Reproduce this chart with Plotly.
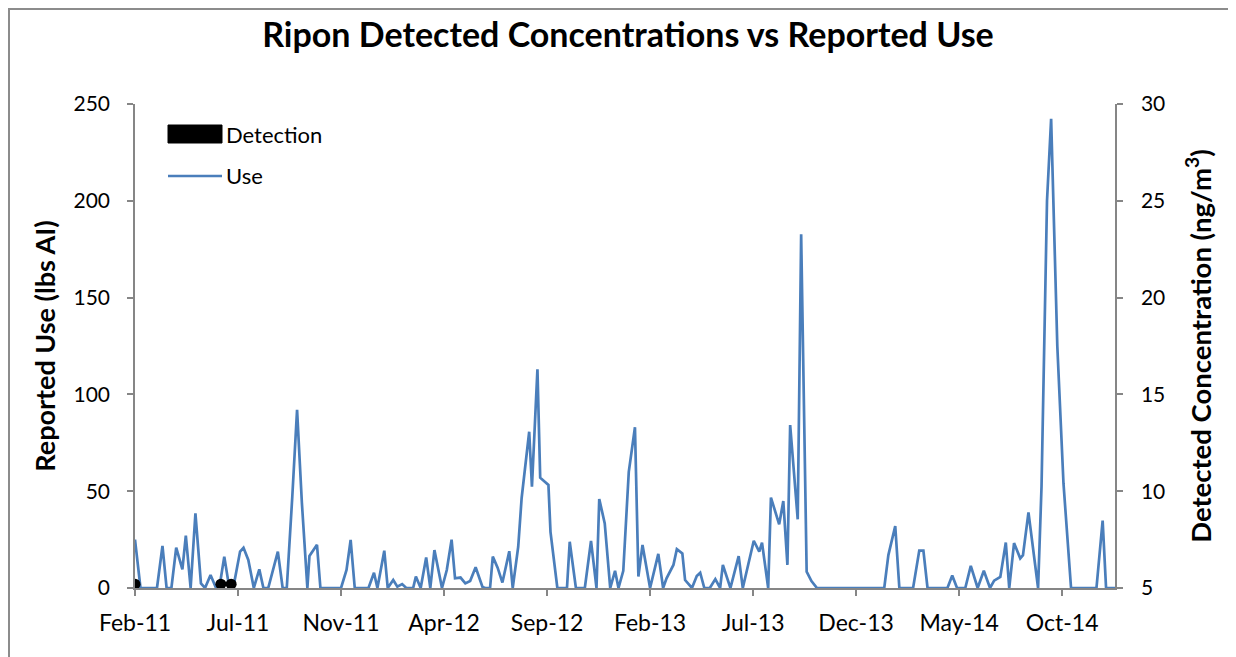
import plotly.graph_objects as go
import pandas as pd

# ---------------- data ----------------
start_date = "2011-02-01"
end_day = 1427

# Reported use (lbs AI): day offset from start_date, value
use_day = [0, 8, 16, 24, 32, 40, 46, 53, 60, 69, 74, 81, 88, 96, 102, 110, 118, 124, 130, 136,
           143, 153, 158, 165, 173, 181, 187, 194, 208, 215, 221, 229, 236, 243, 251, 254, 265, 270,
           277, 284, 292, 300, 308, 314, 320, 327, 334, 340, 348, 353, 363, 368, 376, 382, 389, 395,
           400, 405, 409, 416, 424, 430, 436, 447, 454, 461, 466, 474, 481, 488, 496, 506, 510, 517,
           521, 528, 535, 545, 550, 558, 563, 574, 578, 586, 590, 602, 605, 615, 622, 629, 633, 642,
           648, 655, 664, 672, 676, 684, 692, 699, 704, 711, 719, 728, 733, 739, 750, 762, 769, 774,
           784, 789, 797, 801, 811, 818, 823, 829, 837, 845, 852, 856, 867, 879, 885, 901, 909, 913,
           922, 926, 938, 944, 950, 954, 965, 970, 978, 985, 993, 1000, 1007, 1014, 1021, 1028, 1035,
           1042, 1049, 1056, 1063, 1070, 1077, 1084, 1091, 1097, 1107, 1113, 1120, 1127, 1133, 1142,
           1148, 1154, 1161, 1168, 1175, 1183, 1190, 1197, 1203, 1209, 1217, 1227, 1236, 1245, 1251,
           1260, 1268, 1273, 1280, 1289, 1293, 1301, 1315, 1320, 1328, 1334, 1343, 1352, 1363, 1370,
           1377, 1384, 1391, 1400, 1409, 1414, 1421, 1427]
use_lbs = [25, 0, 0, 0, 0, 21.7, 0, 0, 20.8, 9.6, 27, 0, 38.6, 2.4, 0, 6.7, 0, 2.8, 16.2, 3,
           0, 18.8, 20.8, 14.5, 0, 9.6, 0, 0, 18.8, 0, 0, 47, 92, 44, 0, 16.5, 22.3, 0,
           0, 0, 0, 0, 9.3, 24.8, 0, 0, 0, 0, 7.9, 0, 19.3, 0, 4.1, 0.7, 2, 0,
           0, 0, 5.9, 0, 15.8, 0, 19.6, 0, 9.3, 25, 5, 5.4, 2.4, 3.6, 10.7, 0.5, 0, 0,
           16.2, 10.5, 2.8, 19, 0, 21.3, 46.5, 80.7, 52.3, 113, 57, 53.2, 29, 0, 0, 0, 23.9, 0,
           0, 0, 24.3, 0, 46, 33.4, 0, 8.9, 0, 8.9, 60, 83, 5.9, 22.2, 0, 17.6, 0, 5,
           11.9, 20.1, 17.9, 4.1, 0, 6.2, 7.9, 0, 0, 4.6, 0, 11.9, 0, 16.5, 0, 24.4, 18.8, 23.4,
           0, 46.7, 32.9, 44.9, 11.9, 84.2, 35.5, 182.7, 8.4, 3.6, 0, 0, 0, 0, 0, 0, 0,
           0, 0, 0, 0, 0, 0, 0, 0, 17, 32, 0, 0, 0, 0, 19.3,
           19.3, 0, 0, 0, 0, 0, 6.4, 0, 0, 0, 11.4, 0, 8.9, 0, 3.8,
           5.7, 23.5, 0, 23.2, 15.3, 17, 39.1, 0, 52.3, 200, 242.3, 125, 54, 0, 0,
           0, 0, 0, 0, 34.8, 0, 0, 0]

# Detected concentration (ng/m3)
det_day = [0, 125, 140]
det_conc = [5.2, 5.2, 5.2]

use_ticks = [0, 50, 100, 150, 200, 250]
conc_ticks = [5, 10, 15, 20, 25, 30]

# ---------------- figure ----------------
start = pd.Timestamp(start_date)
use_dates = start + pd.to_timedelta(use_day, unit="D")
det_dates = start + pd.to_timedelta(det_day, unit="D")
x_end = start + pd.Timedelta(days=end_day)
x_ticks = [start + pd.Timedelta(days=150 * k) for k in range(10)]

FONT = "Lato, Calibri, sans-serif"
AX = "#868686"
BLUE = "#4A7EBB"

# page body has an 8px margin; figure sized so it fills the 1236x657 window
OFF = 8
W, H = 1236 - OFF, 657 - OFF
PL, PR, PT, PB = 135, 1115, 104, 588   # plot area in window pixels

fig = go.Figure()
fig.add_trace(go.Scatter(x=use_dates, y=use_lbs, mode="lines", name="Use",
                         line=dict(color=BLUE, width=2.7), showlegend=False))
fig.add_trace(go.Scatter(x=det_dates, y=det_conc, mode="markers", name="Detection",
                         marker=dict(color="black", size=11), yaxis="y2", showlegend=False))

axis_common = dict(showline=True, linecolor=AX, linewidth=1.5, ticks="outside", ticklen=6,
                   tickcolor=AX, tickwidth=1.5, showgrid=False, zeroline=False, automargin=False)

fig.update_layout(
    width=W, height=H,
    margin=dict(l=PL - OFF, r=W + OFF - PR, t=PT - OFF, b=H + OFF - PB, pad=0),
    paper_bgcolor="white", plot_bgcolor="white",
    font=dict(family=FONT, color="black"),
    title=dict(text="<b>Ripon Detected Concentrations vs Reported Use</b>",
               font=dict(family=FONT, size=34, color="black"),
               x=(628 - OFF) / W, xref="container", xanchor="center",
               y=1 - (35 - OFF) / H, yref="container", yanchor="middle"),
    xaxis=dict(type="date", range=[start, x_end], tickvals=x_ticks, tickformat="%b-%y",
               ticklabelstandoff=8, tickfont=dict(family=FONT, size=23, color="black"),
               **axis_common),
    yaxis=dict(range=[0, 250], tickvals=use_ticks, ticklabelstandoff=13,
               tickfont=dict(family=FONT, size=21, color="black"),
               title=dict(text="<b>Reported Use (lbs AI)</b>", standoff=10,
                          font=dict(family=FONT, size=27, color="black")),
               **axis_common),
    yaxis2=dict(range=[5, 30], tickvals=conc_ticks, overlaying="y", side="right",
                ticklabelstandoff=14, tickfont=dict(family=FONT, size=21, color="black"),
                title=dict(text="<b>Detected Concentration (ng/m<sup>3</sup>)</b>", standoff=27,
                           font=dict(family=FONT, size=27.5, color="black")),
                **axis_common),
    showlegend=False,
)

# custom legend (paper coordinates from window pixels)
def px_x(p):
    return (p - PL) / float(PR - PL)

def px_y(p):
    return (PB - p) / float(PB - PT)

fig.add_shape(type="rect", xref="paper", yref="paper",
              x0=px_x(168), x1=px_x(222), y0=px_y(143), y1=px_y(125),
              fillcolor="black", line=dict(color="black", width=1))
fig.add_shape(type="line", xref="paper", yref="paper",
              x0=px_x(168), x1=px_x(222), y0=px_y(176), y1=px_y(176),
              line=dict(color=BLUE, width=2.7))
fig.add_annotation(text="Detection", xref="paper", yref="paper", x=px_x(224), y=px_y(134),
                   xanchor="left", yanchor="middle", showarrow=False,
                   font=dict(family=FONT, size=22, color="black"))
fig.add_annotation(text="Use", xref="paper", yref="paper", x=px_x(224), y=px_y(176),
                   xanchor="left", yanchor="middle", showarrow=False,
                   font=dict(family=FONT, size=22, color="black"))

# outer chart border
fig.add_shape(type="rect", xref="paper", yref="paper",
              x0=px_x(OFF + 1), x1=px_x(1233), y0=px_y(670), y1=px_y(OFF + 1),
              line=dict(color="#8C8C8C", width=2), fillcolor="rgba(0,0,0,0)", layer="below")

fig.write_html("out.html")
